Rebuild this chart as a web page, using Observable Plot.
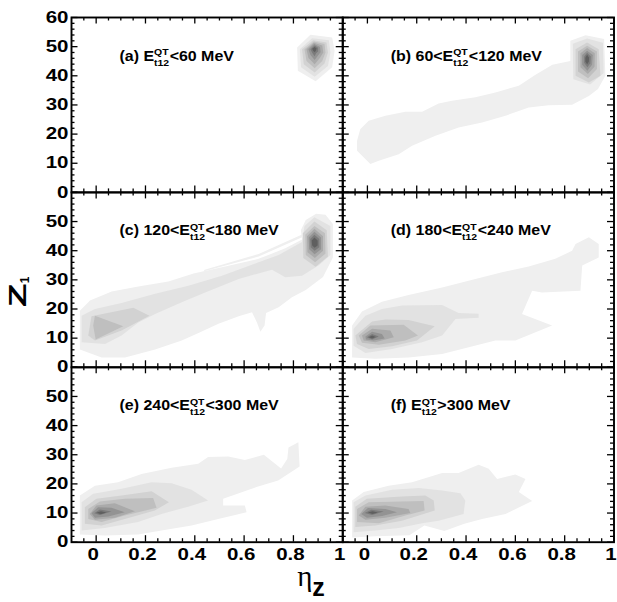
<!DOCTYPE html>
<html><head><meta charset="utf-8">
<script src="https://cdn.jsdelivr.net/npm/d3@7"></script>
<script src="https://cdn.jsdelivr.net/npm/@observablehq/plot@0.6"></script>
<style>
html,body{margin:0;padding:0;background:#fff;}
#chart{position:relative;width:617px;height:602px;overflow:hidden;}
</style></head><body><div id="chart"></div>
<script>
// ---- data ----
const grays = ["#efefef","#e2e2e2","#d2d2d2","#bfbfbf","#aaaaaa","#939393","#7a7a7a","#5f5f5f"];

const panelLabels = ["(a) E|QT|t12|<60 MeV","(b) 60<E|QT|t12|<120 MeV","(c) 120<E|QT|t12|<180 MeV",
  "(d) 180<E|QT|t12|<240 MeV","(e) 240<E|QT|t12|<300 MeV","(f) E|QT|t12|>300 MeV"];
const panelCol = [0,1,0,1,0,1];
const panelRow = [0,0,1,1,2,2];

const xMajor = [0,0.2,0.4,0.6,0.8,1];
const xMinor = [-0.05,0.05,0.1,0.15,0.25,0.3,0.35,0.45,0.5,0.55,0.65,0.7,0.75,0.85,0.9,0.95];
const xTickText = ["0","0.2","0.4","0.6","0.8","1"];
const yMajor = [0,10,20,30,40,50,60];
const yMinor = [2,4,6,8,12,14,16,18,22,24,26,28,32,34,36,38,42,44,46,48,52,54,56,58];
const yLabelsTop = [0,10,20,30,40,50,60];
const yLabelsLower = [0,10,20,30,40,50];

// contour bands: [level, [[eta, Z], ...]]
const panelA = [
 [1,[[0.815,49.7],[0.869,54.1],[0.957,53.1],[0.967,48.6],[0.957,42.9],[0.89,38.1],[0.818,41.7]]],
 [2,[[0.826,49.1],[0.876,52.9],[0.944,52.2],[0.95,48.0],[0.94,43.4],[0.886,39.7],[0.831,42.9]]],
 [3,[[0.835,49.1],[0.88,52.2],[0.934,51.4],[0.94,48.0],[0.926,44.2],[0.886,41.1],[0.842,44.0]]],
 [4,[[0.845,49.1],[0.883,51.8],[0.926,50.9],[0.93,48.0],[0.917,45.1],[0.886,42.6],[0.853,45.1]]],
 [5,[[0.853,49.1],[0.883,51.3],[0.917,50.4],[0.921,48.0],[0.907,46.1],[0.886,44.0],[0.861,46.1]]],
 [6,[[0.861,49.1],[0.884,50.9],[0.908,49.9],[0.91,48.1],[0.899,46.9],[0.886,45.4],[0.869,47.1]]],
 [7,[[0.869,49.1],[0.886,50.4],[0.9,49.6],[0.9,48.3],[0.892,47.7],[0.886,46.7],[0.876,47.9]]],
 [8,[[0.876,49.3],[0.886,49.9],[0.894,49.4],[0.891,48.6],[0.886,48.1],[0.88,48.6]]]
];
const panelB = [
 [1,[[0.012,9.7],[-0.042,14.3],[-0.042,17.7],[-0.029,21.7],[0.005,24.6],[0.073,26.3],[0.154,27.7],[0.222,27.7],[0.289,30.5],[0.343,31.4],[0.438,32.6],[0.519,34.3],[0.614,36.6],[0.68,40.3],[0.75,43.8],[0.823,45.1],[0.823,52.0],[0.885,53.9],[0.96,52.6],[0.965,40.0],[0.935,35.5],[0.898,33.1],[0.83,30.1],[0.735,29.9],[0.654,29.1],[0.56,26.3],[0.465,24.0],[0.37,22.3],[0.276,19.4],[0.181,16.0],[0.127,13.1],[0.046,10.9]]],
 [2,[[0.891,52.8],[0.955,51.3],[0.958,41.0],[0.903,37.0],[0.835,38.8],[0.833,51.0]]],
 [3,[[0.891,51.4],[0.938,49.1],[0.945,40.0],[0.898,37.7],[0.844,40.0],[0.844,49.1]]],
 [4,[[0.891,50.3],[0.931,48.3],[0.931,42.3],[0.895,39.2],[0.854,41.5],[0.854,48.3]]],
 [5,[[0.891,49.5],[0.922,47.7],[0.921,43.1],[0.894,40.6],[0.864,42.9],[0.864,47.7]]],
 [6,[[0.891,48.6],[0.914,47.1],[0.911,43.8],[0.892,41.7],[0.871,43.8],[0.871,47.1]]],
 [7,[[0.891,47.9],[0.906,46.6],[0.904,44.3],[0.892,42.9],[0.879,44.5],[0.879,46.6]]],
 [8,[[0.891,47.2],[0.899,46.2],[0.898,44.8],[0.891,44.0],[0.884,44.9],[0.884,46.2]]]
];
const panelC = [
 [1,[[-0.066,6.1],[0.022,3.4],[0.117,3.4],[0.239,6.1],[0.347,9.2],[0.415,11.8],[0.496,14.9],[0.578,17.5],[0.632,18.9],[0.652,15.4],[0.666,12.2],[0.683,14.3],[0.689,18.6],[0.74,20.6],[0.794,24.0],[0.85,26.5],[0.92,31.0],[0.96,37.7],[0.96,49.2],[0.93,52.3],[0.892,52.7],[0.85,50.5],[0.83,47.0],[0.835,43.8],[0.767,40.8],[0.659,37.2],[0.523,34.6],[0.395,32.2],[0.293,29.4],[0.171,27.7],[0.063,26.0],[-0.025,22.9],[-0.066,19.4]]],
 [1,[[0.435,32.9],[0.659,38.0],[0.835,44.6],[0.835,45.6],[0.659,38.9],[0.44,33.5]]],
 [2,[[-0.059,8.6],[-0.059,17.7],[-0.005,20.0],[0.103,22.1],[0.239,25.2],[0.374,28.0],[0.51,31.4],[0.659,36.0],[0.74,38.5],[0.835,43.0],[0.845,48.5],[0.885,51.5],[0.95,48.5],[0.95,38.5],[0.903,35.0],[0.835,31.4],[0.767,30.9],[0.713,33.5],[0.578,30.3],[0.442,25.7],[0.347,22.3],[0.239,18.3],[0.171,15.4],[0.103,10.9],[0.036,8.0]]],
 [3,[[-0.019,17.5],[0.151,20.4],[0.216,17.7],[0.103,12.6],[-0.005,9.2],[-0.032,10.9]]],
 [4,[[-0.005,17.7],[0.11,14.1],[-0.002,9.5],[-0.012,14.3]]],
 [3,[[0.885,50.0],[0.935,47.0],[0.94,38.0],[0.89,34.5],[0.84,37.5],[0.838,46.0]]],
 [4,[[0.885,48.5],[0.928,46.0],[0.93,39.0],[0.888,36.0],[0.85,38.5],[0.848,45.5]]],
 [5,[[0.885,47.5],[0.92,45.0],[0.92,40.0],[0.887,37.5],[0.857,39.5],[0.855,45.0]]],
 [6,[[0.885,46.5],[0.912,44.5],[0.912,40.5],[0.886,38.8],[0.864,40.5],[0.862,44.5]]],
 [7,[[0.885,45.5],[0.905,44.0],[0.905,41.2],[0.886,40.0],[0.87,41.2],[0.868,44.0]]],
 [8,[[0.885,44.5],[0.898,43.5],[0.898,41.8],[0.886,41.0],[0.876,41.8],[0.874,43.5]]]
];
const panelD = [
 [1,[[-0.062,3.4],[-0.062,14.3],[-0.022,19.1],[0.059,22.5],[0.167,24.8],[0.303,27.4],[0.438,30.3],[0.546,32.6],[0.654,34.6],[0.762,37.2],[0.83,40.0],[0.844,42.3],[0.898,44.6],[0.938,42.3],[0.938,37.7],[0.871,34.9],[0.864,26.3],[0.708,25.7],[0.668,26.3],[0.627,18.3],[0.749,14.3],[0.6,9.2],[0.519,9.2],[0.411,6.9],[0.303,4.6],[0.167,3.4],[0.032,2.9]]],
 [2,[[-0.056,7.4],[-0.056,13.2],[-0.008,17.7],[0.059,20.0],[0.14,21.2],[0.303,21.4],[0.37,18.6],[0.451,18.4],[0.451,17.0],[0.357,16.6],[0.303,10.9],[0.222,8.6],[0.1,6.3],[-0.008,4.9]]],
 [3,[[-0.049,10.9],[0.019,15.7],[0.073,16.4],[0.167,16.2],[0.273,14.1],[0.201,9.2],[0.1,7.2],[0.005,6.3],[-0.042,8.0]]],
 [4,[[-0.035,10.9],[0.012,14.3],[0.147,14.6],[0.205,10.9],[0.154,9.2],[0.046,7.7],[-0.022,8.4]]],
 [5,[[-0.022,10.9],[0.019,13.2],[0.093,12.6],[0.107,10.3],[0.032,8.6],[-0.015,9.2]]],
 [6,[[-0.008,10.6],[0.019,12.2],[0.059,11.4],[0.07,9.9],[0.025,9.2],[-0.006,9.5]]],
 [7,[[-0.002,10.3],[0.019,11.4],[0.046,10.6],[0.019,9.5]]],
 [8,[[0.006,10.3],[0.019,10.9],[0.034,10.4],[0.019,9.9]]]
];
const panelE = [
 [1,[[-0.066,2.6],[-0.066,16.0],[-0.005,19.4],[0.089,20.6],[0.184,23.4],[0.306,25.5],[0.414,26.9],[0.454,29.2],[0.536,29.4],[0.603,28.2],[0.68,30.0],[0.75,25.3],[0.775,28.5],[0.78,32.5],[0.82,34.3],[0.825,26.0],[0.738,21.2],[0.65,18.9],[0.515,14.9],[0.515,12.6],[0.603,12.6],[0.61,10.3],[0.495,8.0],[0.387,5.7],[0.265,4.0],[0.17,2.6],[0.035,2.3]]],
 [2,[[-0.059,4.0],[-0.059,13.7],[-0.012,16.6],[0.103,18.3],[0.225,20.6],[0.306,20.2],[0.387,18.0],[0.454,14.3],[0.373,12.2],[0.265,9.7],[0.17,6.9],[0.035,4.9]]],
 [3,[[-0.046,6.3],[-0.046,12.0],[0.001,14.9],[0.103,16.0],[0.225,17.5],[0.295,13.7],[0.238,10.9],[0.116,8.0],[0.022,5.7]]],
 [4,[[-0.032,8.0],[-0.032,11.4],[0.015,14.0],[0.116,14.9],[0.231,15.2],[0.245,11.8],[0.116,9.2],[0.022,6.9]]],
 [5,[[-0.026,9.7],[0.001,12.6],[0.076,13.4],[0.157,10.6],[0.076,8.4],[-0.005,7.7]]],
 [6,[[-0.019,9.9],[0.008,12.0],[0.062,11.8],[0.116,10.3],[0.049,8.8],[-0.005,8.4]]],
 [7,[[-0.008,9.9],[0.015,11.2],[0.062,10.5],[0.015,9.3]]],
 [8,[[0.001,10.1],[0.019,10.6],[0.042,10.2],[0.019,9.6]]]
];
const panelF = [
 [1,[[-0.062,1.6],[-0.062,14.3],[-0.015,17.2],[0.086,19.4],[0.181,20.6],[0.303,23.7],[0.37,23.7],[0.451,26.6],[0.492,25.2],[0.526,21.7],[0.6,23.2],[0.641,21.7],[0.614,17.2],[0.668,14.1],[0.56,9.7],[0.465,8.0],[0.393,6.3],[0.312,3.8],[0.231,5.7],[0.17,2.4],[0.032,2.0]]],
 [2,[[-0.056,3.4],[-0.056,13.7],[-0.008,16.0],[0.1,18.0],[0.208,18.6],[0.303,17.7],[0.377,16.8],[0.397,14.3],[0.39,9.7],[0.289,7.4],[0.222,6.5],[0.127,4.9],[0.032,4.0]]],
 [3,[[-0.049,5.2],[-0.049,12.2],[-0.002,14.9],[0.14,15.7],[0.235,16.0],[0.269,14.3],[0.273,10.9],[0.228,9.7],[0.14,7.4],[0.032,5.7]]],
 [4,[[-0.042,6.9],[-0.042,11.4],[0.005,13.7],[0.228,14.1],[0.232,10.9],[0.154,9.2],[0.046,6.5]]],
 [5,[[-0.035,9.2],[-0.008,12.2],[0.073,12.6],[0.167,11.4],[0.174,10.0],[0.073,8.4],[-0.008,7.7]]],
 [6,[[-0.025,9.7],[0.002,11.7],[0.073,11.4],[0.12,10.3],[0.059,9.0],[-0.002,8.4]]],
 [7,[[-0.011,10.0],[0.016,11.1],[0.066,10.5],[0.019,9.3]]],
 [8,[[0.002,10.2],[0.021,10.6],[0.043,10.2],[0.021,9.7]]]
];

// ---- build tables ----
const allPanels = [panelA, panelB, panelC, panelD, panelE, panelF];
const bandRows = [];
allPanels.forEach((polys, p) => polys.forEach(([lev, pts], i) =>
  pts.forEach(([x, y]) => bandRows.push({fx: panelCol[p], fy: panelRow[p], id: p * 100 + i, lev, x, y}))));

const labelRows = panelLabels.map((t, p) => ({fx: panelCol[p], fy: panelRow[p], t}));
const yLabelRows = [];
[yLabelsTop, yLabelsLower, yLabelsLower].forEach((arr, r) => arr.forEach(v => yLabelRows.push({fx: 0, fy: r, v})));
const xLabelRows = [];
[0, 1].forEach(c => xMajor.forEach((v, i) => xLabelRows.push({fx: c, fy: 2, v, t: xTickText[i]})));

// ---- geometry ----
const W = 617, H = 602, mL = 71, mR = 3.5, mT = 17, mB = 60.3;
const xDom = [-0.1, 1.0], yDom = [0, 60];
const pw = (W - mL - mR) / 2, ph = (H - mT - mB) / 3;
const ux = (xDom[1] - xDom[0]) / pw, uy = (yDom[1] - yDom[0]) / ph; // data units per px
const majX = 6.5, minX = 3.5; // tick lengths px
const tickStyle = {stroke: "black", strokeWidth: 1.3};
const FONT = "Liberation Sans, Arial, sans-serif";

const chart = Plot.plot({
  width: W, height: H,
  marginLeft: mL, marginRight: mR, marginTop: mT, marginBottom: mB,
  x: {domain: xDom, axis: null},
  y: {domain: yDom, axis: null},
  fx: {domain: [0, 1], axis: null, paddingInner: 0, paddingOuter: 0, round: false},
  fy: {domain: [0, 1, 2], axis: null, paddingInner: 0, paddingOuter: 0, round: false},
  color: {type: "identity"},
  style: {fontFamily: FONT, background: "white", color: "black"},
  marks: [
    Plot.line(bandRows, {x: "x", y: "y", z: "id", fx: "fx", fy: "fy", fill: d => grays[d.lev - 1], stroke: "none", curve: "linear-closed"}),
    Plot.ruleX(xMajor, {x: d => d, y1: () => yDom[0], y2: () => yDom[0] + majX * uy, ...tickStyle}),
    Plot.ruleX(xMinor, {x: d => d, y1: () => yDom[0], y2: () => yDom[0] + minX * uy, ...tickStyle}),
    Plot.ruleX(xMajor, {x: d => d, y1: () => yDom[1] - majX * uy, y2: () => yDom[1], ...tickStyle}),
    Plot.ruleX(xMinor, {x: d => d, y1: () => yDom[1] - minX * uy, y2: () => yDom[1], ...tickStyle}),
    Plot.ruleY(yMajor, {y: d => d, x1: () => xDom[0], x2: () => xDom[0] + majX * ux, ...tickStyle}),
    Plot.ruleY(yMinor, {y: d => d, x1: () => xDom[0], x2: () => xDom[0] + minX * ux, ...tickStyle}),
    Plot.ruleY(yMajor, {y: d => d, x1: () => xDom[1] - majX * ux, x2: () => xDom[1], ...tickStyle}),
    Plot.ruleY(yMinor, {y: d => d, x1: () => xDom[1] - minX * ux, x2: () => xDom[1], ...tickStyle}),
    Plot.frame({stroke: "black", strokeWidth: 1.9}),
    Plot.text(yLabelRows, {fx: "fx", fy: "fy", x: () => xDom[0], y: "v", text: d => String(d.v), textAnchor: "end", dx: -3, lineAnchor: "middle", fontSize: 16, fontWeight: "bold", fill: "black", fontFamily: FONT}),
    Plot.text(xLabelRows, {fx: "fx", fy: "fy", x: "v", y: () => yDom[0], text: "t", dx: -3, dy: 13, lineAnchor: "middle", fontSize: 16, fontWeight: "bold", fill: "black", fontFamily: FONT}),
    Plot.text(labelRows, {fx: "fx", fy: "fy", x: () => xDom[0] + 48 * ux, y: () => yDom[1] - 43 * uy, text: "t", textAnchor: "start", lineAnchor: "bottom", fontSize: 14.5, fontWeight: "bold", fill: "black", fontFamily: FONT})
  ]
});
document.getElementById("chart").appendChild(chart);

// post-process texts: stretched ROOT-style glyphs and E^{QT}_{t12}
const NS = "http://www.w3.org/2000/svg";
chart.querySelectorAll("text").forEach(t => {
  const s = t.textContent;
  const tr = t.getAttribute("transform") || "";
  if (s.includes("|")) {
    const parts = s.split("|");
    t.textContent = "";
    const mk = (str, attrs) => {
      const e = document.createElementNS(NS, "tspan");
      for (const k in attrs) e.setAttribute(k, attrs[k]);
      e.textContent = str; t.appendChild(e); return e;
    };
    mk(parts[0], {});
    const sup = mk(parts[1], {"font-size": "9.5px", dy: "-5.5"});
    const sub = mk(parts[2], {"font-size": "9.5px", dy: "10.5"});
    const rest = mk(parts[3], {dy: "-5"});
    const wSup = sup.getComputedTextLength(), wSub = sub.getComputedTextLength();
    sub.setAttribute("dx", -wSup);
    rest.setAttribute("dx", Math.max(0, wSup - wSub) + 0.5);
    t.setAttribute("transform", tr + " scale(1.1,1)");
  } else if (/^[0-9.]+$/.test(s)) {
    t.setAttribute("transform", tr + " scale(1.28,1)");
  }
});

// axis titles
const svg = d3.select(chart);
const zt = svg.append("text").attr("transform", "translate(26,292) rotate(-90)")
  .attr("font-family", FONT).attr("font-weight", "bold").attr("font-size", 23).attr("fill", "black");
zt.append("tspan").attr("textLength", 24).attr("lengthAdjust", "spacingAndGlyphs").text("Z");
zt.append("tspan").attr("font-size", 12).attr("dy", 3).text("1");
const xt = svg.append("text").attr("x", 311).attr("y", 586).attr("fill", "black");
xt.append("tspan").attr("font-family", "Liberation Serif").attr("font-size", 29).text("η");
xt.append("tspan").attr("font-family", FONT).attr("font-weight", "bold").attr("font-size", 25).attr("dy", 10).text("z");
</script>
</body></html>
